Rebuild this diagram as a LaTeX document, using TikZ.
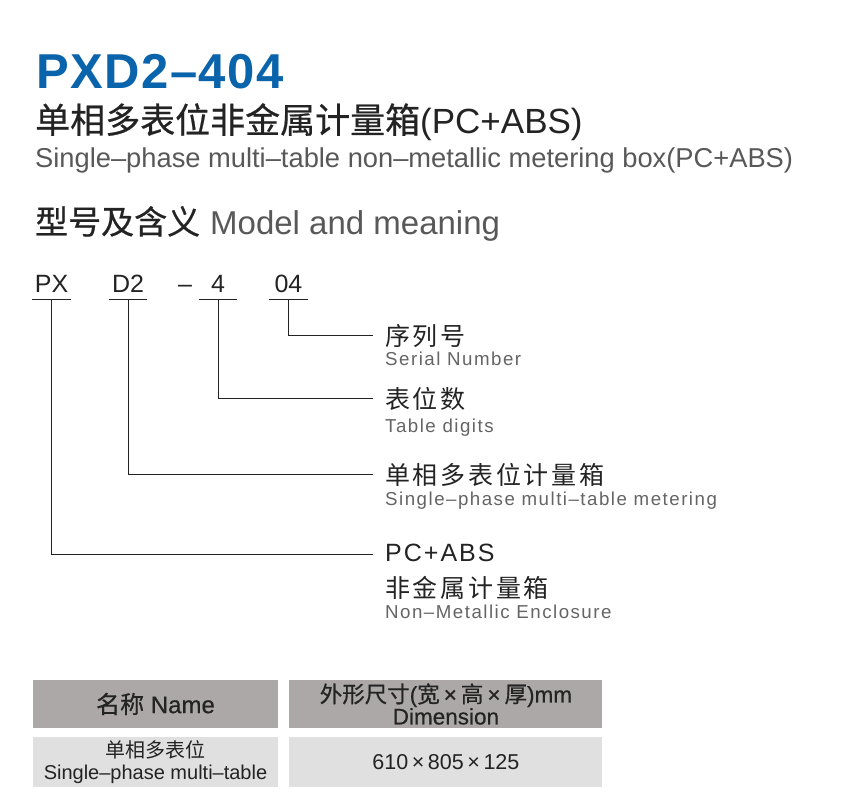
\documentclass[tikz,border=0pt]{standalone}
\usepackage{fontspec}
\setmainfont{Liberation Sans}
\newfontfamily\cjk{Noto Sans CJK SC}
\newfontfamily\cjkmed{Noto Sans CJK SC}[FakeBold=0.6]
\newfontfamily\medfont{Liberation Sans}[FakeBold=0.5]
\newfontfamily\titlefont{Liberation Sans}[LetterSpace=3]
\newfontfamily\lblfont{Liberation Sans}[LetterSpace=8]
\newfontfamily\lblcjk{Noto Sans CJK SC}[LetterSpace=11]
\usetikzlibrary{positioning}
\definecolor{titleblue}{RGB}{10,100,172}
\definecolor{ink}{RGB}{35,35,35}
\definecolor{subgray}{RGB}{88,88,88}
\definecolor{engray}{RGB}{100,100,100}
\definecolor{hdrgray}{RGB}{172,168,168}
\definecolor{rowgray}{RGB}{224,224,224}

\begin{document}
\begin{tikzpicture}[
    x=1pt, y=-1pt,
    txt/.style={inner sep=0pt, anchor=base west, text=ink},
    code/.style={inner xsep=0pt, inner ysep=7pt, minimum width=38pt, text depth=0pt, anchor=base, font=\fontsize{25}{30}\selectfont, text=ink},
    cnlbl/.style={txt, font=\lblcjk\fontsize{25}{28}\selectfont},
    enlbl/.style={txt, font=\lblfont\fontsize{18.7}{22}\selectfont, text=engray},
    cell/.style={rectangle, minimum height=48pt, align=center, text=ink, inner sep=0pt},
    conn/.style={draw=ink, line width=0.9pt}
]
    \useasboundingbox (0,0) rectangle (854,811);

    \node[txt, font=\titlefont\bfseries\fontsize{49}{60}\selectfont, text=titleblue] (title) at (36,88) {PXD2–404};
    \node[txt, font=\fontsize{35}{40}\selectfont] (namecn) at (35,133) {{\cjkmed 单相多表位非金属计量箱}(PC+ABS)};
    \node[txt, font=\fontsize{27.3}{32}\selectfont, text=subgray] (nameen) at (35,167) {Single–phase multi–table non–metallic metering box(PC+ABS)};
    \node[txt, font=\fontsize{33}{40}\selectfont] (heading) at (35,234) {{\cjkmed 型号及含义}\hspace{10pt}\textcolor{subgray}{Model and meaning}};

    \node[code] (px) at (51.5,292) {PX};
    \node[code] (d2) at (128,292) {D2};
    \node[code, minimum width=0pt, inner ysep=0pt] (dash) at (185,292) {–};
    \node[code] (n4) at (218,292) {4};
    \node[code] (n04) at (288.5,292) {04};
    \foreach \c in {px,d2,n4,n04}
        \draw[conn] (\c.south west) -- (\c.south east);

    \node[cnlbl] (serialcn) at (385,345) {序列号};
    \node[enlbl] (serialen) at (385,365.5) {Serial Number};
    \node[cnlbl] (digitscn) at (385,408) {表位数};
    \node[enlbl] (digitsen) at (385,432) {Table digits};
    \node[cnlbl] (metercn) at (385,484) {单相多表位计量箱};
    \node[enlbl] (meteren) at (385,505.5) {Single–phase multi–table metering};
    \node[txt, font=\lblfont\fontsize{25}{30}\selectfont] (pcabs) at (385,561) {PC+ABS};
    \node[cnlbl] (enclcn) at (385,597) {非金属计量箱};
    \node[enlbl] (enclen) at (385,618.5) {Non–Metallic Enclosure};

    \draw[conn] (n04.south) |- ([xshift=-12pt]serialcn.west);
    \draw[conn] (n4.south) |- ([xshift=-12pt]digitscn.west);
    \draw[conn] (d2.south) |- ([xshift=-12pt]metercn.west);
    \draw[conn] (px.south) |- ([xshift=-12pt,yshift=-2pt]pcabs.west);

    \node[cell, fill=hdrgray, minimum width=245pt, font=\medfont\fontsize{24}{25}\selectfont] (hname) at (155.5,704) {{\cjkmed 名称} Name};
    \node[cell, fill=hdrgray, minimum width=313pt, right=11pt of hname, font=\medfont\fontsize{22.5}{22}\selectfont] (hdim) {{\cjkmed 外形尺寸}({\cjkmed 宽}\hspace{4pt}×\hspace{4pt}{\cjkmed 高}\hspace{4pt}×\hspace{4pt}{\cjkmed 厚})mm\\Dimension};
    \node[cell, fill=rowgray, minimum width=245pt, minimum height=50pt, below=9pt of hname, font=\fontsize{20}{22}\selectfont] (rname) {{\cjk 单相多表位}\\Single–phase multi–table};
    \node[cell, fill=rowgray, minimum width=313pt, minimum height=50pt, right=11pt of rname, font=\fontsize{21.5}{22}\selectfont] (rdim) {610\,×\,805\,×\,125};
\end{tikzpicture}
\end{document}
